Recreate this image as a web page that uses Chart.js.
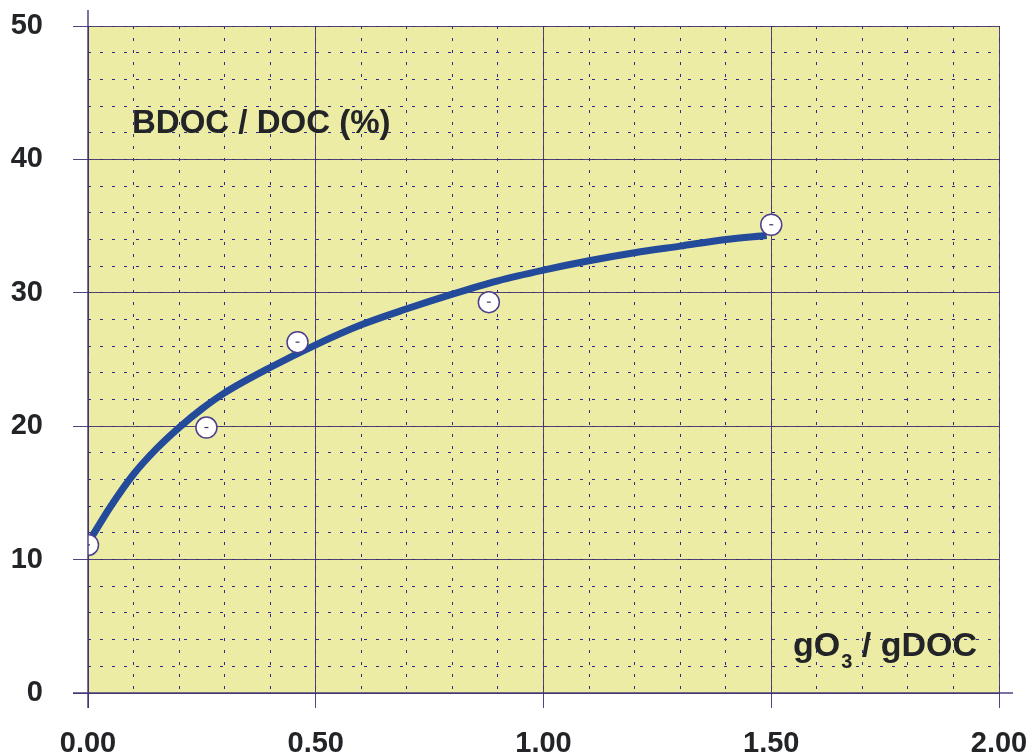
<!DOCTYPE html>
<html>
<head>
<meta charset="utf-8">
<script src="https://cdn.jsdelivr.net/npm/chart.js@4/dist/chart.umd.min.js"></script>
<style>
  html, body { margin: 0; padding: 0; background: #ffffff; }
  #wrap { width: 1030px; height: 756px; }
</style>
</head>
<body>
<div id="wrap"><canvas id="c" width="1030" height="756"></canvas></div>
<script>
// ---- data ----
const ozoneDose = [0.00, 0.26, 0.46, 0.88, 1.50];          // gO3 / gDOC (measured)
const bdocRatio = [11.1, 19.9, 26.3, 29.3, 35.1];          // BDOC / DOC (%)
const fitDose   = [0.01, 0.05, 0.10, 0.15, 0.20, 0.25, 0.30, 0.40, 0.50, 0.60, 0.70, 0.80, 0.90, 1.00, 1.10, 1.20, 1.30, 1.40, 1.49];
const fitRatio  = [11.8, 14.0, 16.4, 18.3, 19.9, 21.3, 22.5, 24.4, 26.1, 27.6, 28.8, 29.9, 30.9, 31.7, 32.4, 33.0, 33.5, 34.0, 34.3];
const xTickValues = [0.00, 0.50, 1.00, 1.50, 2.00];
const yTickValues = [0, 10, 20, 30, 40, 50];
const yTitle = "BDOC / DOC (%)";
const xTitleParts = ["gO", "3", " / gDOC"];

const FONT = "'Liberation Sans', Arial, Helvetica, sans-serif";
const MAJOR = "rgba(62,48,112,0.9)";
const MINOR = "#2d2a8e";

const toXY = (xs, ys) => xs.map((x, i) => ({ x: x, y: ys[i] }));

const plotBg = {
  id: 'plotBg',
  beforeDraw(chart) {
    const { ctx, chartArea: a } = chart;
    ctx.save();
    ctx.fillStyle = '#ECECA5';
    ctx.fillRect(a.left, a.top, a.right - a.left, a.bottom - a.top);
    ctx.restore();
  },
  afterDatasetsDraw(chart) {
    const { ctx, chartArea: a } = chart;
    ctx.save();
    // axis lines extending beyond the plot
    ctx.strokeStyle = MAJOR;
    ctx.lineWidth = 1.5;
    ctx.beginPath();
    ctx.moveTo(a.left, a.top - 16);
    ctx.lineTo(a.left, a.bottom + 15);
    ctx.moveTo(a.left - 15, a.bottom);
    ctx.lineTo(a.right + 14, a.bottom);
    ctx.stroke();
    // in-plot titles
    ctx.fillStyle = '#222428';
    ctx.textBaseline = 'alphabetic';
    ctx.textAlign = 'left';
    ctx.font = "bold 33px " + FONT;
    ctx.fillText(yTitle, a.left + 44, a.top + 107);
    let x = a.right - 206;
    const base = a.bottom - 37;
    ctx.font = "bold 34px " + FONT;
    ctx.fillText(xTitleParts[0], x, base);
    x += ctx.measureText(xTitleParts[0]).width + 1;
    ctx.font = "bold 20px " + FONT;
    ctx.fillText(xTitleParts[1], x, base + 12);
    x += ctx.measureText(xTitleParts[1]).width;
    ctx.font = "bold 34px " + FONT;
    ctx.fillText(xTitleParts[2], x, base);
    ctx.restore();
  }
};

const minorGrid = {
  color: MINOR,
  lineWidth: 1,
  drawTicks: false,
  borderDash: [3, 9]
};

new Chart(document.getElementById('c'), {
  data: {
    datasets: [
      {
        type: 'scatter',
        label: 'centre',
        data: toXY(ozoneDose, bdocRatio),
        pointStyle: 'line',
        pointRadius: 2,
        borderColor: '#3a3560',
        borderWidth: 1.2,
        order: 0,
        xAxisID: 'x', yAxisID: 'y'
      },
      {
        type: 'scatter',
        label: 'measured',
        data: toXY(ozoneDose, bdocRatio),
        pointStyle: 'circle',
        pointRadius: 10.5,
        backgroundColor: '#ffffff',
        borderColor: '#4b3f8e',
        borderWidth: 1.5,
        order: 1,
        xAxisID: 'x', yAxisID: 'y'
      },
      {
        type: 'line',
        label: 'fit',
        data: toXY(fitDose, fitRatio),
        borderColor: '#244a9a',
        borderWidth: 7,
        pointRadius: 0,
        fill: false,
        cubicInterpolationMode: 'monotone',
        borderCapStyle: 'butt',
        order: 2,
        xAxisID: 'x', yAxisID: 'y'
      }
    ]
  },
  options: {
    responsive: false,
    animation: false,
    devicePixelRatio: 1,
    layout: { padding: { top: 26, right: 31, left: 10, bottom: 0 } },
    plugins: { legend: { display: false }, tooltip: { enabled: false } },
    scales: {
      xMinor: {
        type: 'linear', position: 'bottom', min: 0, max: 2,
        ticks: { display: false, stepSize: 0.1 },
        grid: minorGrid,
        border: { display: false, dash: [3, 9] },
        afterFit(s) { s.height = 0; }
      },
      yMinor: {
        type: 'linear', position: 'left', min: 0, max: 50,
        ticks: { display: false, stepSize: 2 },
        grid: minorGrid,
        border: { display: false, dash: [3, 9] },
        afterFit(s) { s.width = 0; }
      },
      x: {
        type: 'linear', position: 'bottom', min: 0, max: 2,
        afterBuildTicks(s) { s.ticks = xTickValues.map(v => ({ value: v })); },
        ticks: {
          color: '#222428',
          padding: 21,
          maxRotation: 0,
          font: { family: FONT, size: 29, weight: 'bold', lineHeight: 1.0 },
          callback: v => Number(v).toFixed(2)
        },
        grid: { color: MAJOR, lineWidth: 1, tickLength: 15, tickColor: MAJOR },
        border: { display: false },
        afterFit(s) { s.height = 63; s.paddingLeft = 0; s.paddingRight = 0; }
      },
      y: {
        type: 'linear', position: 'left', min: 0, max: 50,
        afterBuildTicks(s) { s.ticks = yTickValues.map(v => ({ value: v })); },
        ticks: {
          color: '#222428',
          padding: 30,
          font: { family: FONT, size: 29, weight: 'bold', lineHeight: 1.0 },
          callback: v => String(v)
        },
        grid: { color: MAJOR, lineWidth: 1, tickLength: 15, tickColor: MAJOR },
        border: { display: false },
        afterFit(s) { s.width = 78; s.paddingTop = 0; s.paddingBottom = 0; }
      }
    }
  },
  plugins: [plotBg]
});
</script>
</body>
</html>
